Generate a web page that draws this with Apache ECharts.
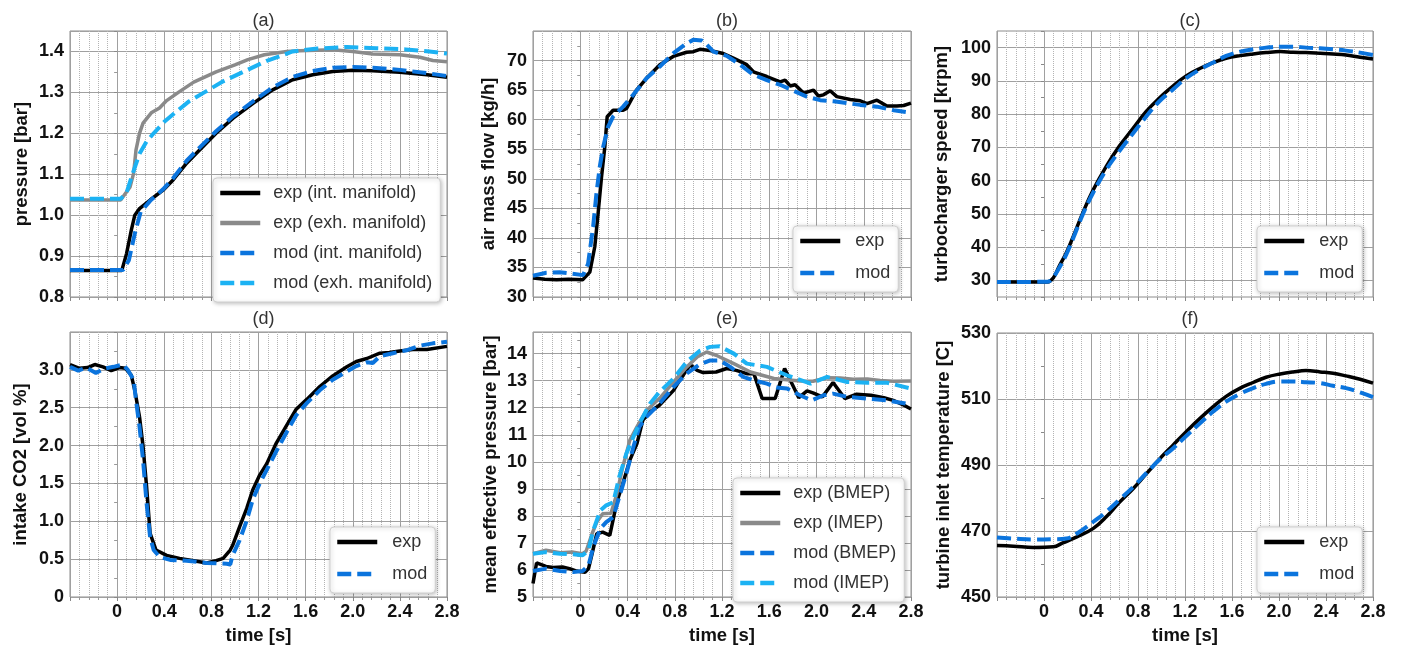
<!DOCTYPE html>
<html><head><meta charset="utf-8">
<script src="https://cdn.jsdelivr.net/npm/echarts@6/dist/echarts.min.js"></script>
<style>html,body{margin:0;padding:0;background:#fff}#c{width:1402px;height:646px}</style>
</head><body><div id="c"></div><script>
// ---- data: [time s, value] ----
const a_expInt = [[-0.4,0.865],[0.04,0.865],[0.08,0.906],[0.12,0.963],[0.15,1.0],[0.19,1.016],[0.28,1.037],[0.39,1.061],[0.475,1.086],[0.59,1.127],[0.70,1.159],[0.84,1.2],[0.985,1.237],[1.154,1.273],[1.32,1.306],[1.49,1.331],[1.66,1.343],[1.83,1.351],[2.0,1.354],[2.17,1.353],[2.4,1.349],[2.63,1.343],[2.8,1.337]];
const a_expExh = [[-0.4,1.037],[0.03,1.037],[0.05,1.045],[0.11,1.069],[0.14,1.102],[0.16,1.159],[0.19,1.2],[0.22,1.225],[0.29,1.25],[0.36,1.262],[0.42,1.28],[0.52,1.30],[0.65,1.325],[0.84,1.35],[1.0,1.367],[1.11,1.38],[1.25,1.392],[1.44,1.40],[1.55,1.402],[1.83,1.404],[2.0,1.40],[2.17,1.394],[2.4,1.392],[2.57,1.386],[2.68,1.378],[2.8,1.375]];
const a_modInt = [[-0.4,0.866],[0.05,0.866],[0.1,0.89],[0.15,0.955],[0.2,1.008],[0.28,1.035],[0.39,1.063],[0.475,1.09],[0.59,1.133],[0.70,1.165],[0.84,1.205],[0.985,1.242],[1.154,1.278],[1.32,1.312],[1.49,1.338],[1.66,1.352],[1.83,1.36],[2.0,1.362],[2.17,1.36],[2.4,1.355],[2.63,1.347],[2.8,1.34]];
const a_modExh = [[-0.4,1.04],[0.03,1.04],[0.08,1.055],[0.13,1.1],[0.19,1.15],[0.25,1.18],[0.31,1.2],[0.4,1.228],[0.49,1.25],[0.61,1.278],[0.74,1.30],[0.9,1.327],[1.07,1.35],[1.27,1.377],[1.49,1.40],[1.7,1.407],[1.95,1.411],[2.2,1.408],[2.45,1.405],[2.65,1.4],[2.8,1.395]];

const b_exp = [[-0.4,33.2],[-0.3,33.0],[-0.2,32.9],[-0.1,33.0],[0.02,32.9],[0.081,34.2],[0.123,38.5],[0.151,44.1],[0.18,50.3],[0.208,55.4],[0.228,60.5],[0.278,61.6],[0.363,61.6],[0.392,61.9],[0.476,65],[0.561,67],[0.674,69.3],[0.787,70.7],[0.9,71.4],[0.957,71.5],[1.013,71.9],[1.098,71.7],[1.211,71.2],[1.296,70.4],[1.409,69.3],[1.466,68.1],[1.579,67.3],[1.692,66.4],[1.734,66.7],[1.777,65.7],[1.819,65.9],[1.89,64.5],[1.975,65.0],[2.017,64.0],[2.059,64.2],[2.116,64.9],[2.172,63.9],[2.286,63.4],[2.37,63.2],[2.427,62.7],[2.512,63.3],[2.596,62.3],[2.681,62.3],[2.738,62.4],[2.8,62.8]];
const b_mod = [[-0.4,33.6],[-0.287,34.1],[-0.174,34.2],[-0.089,34.0],[0.024,33.7],[0.066,35.6],[0.109,41.9],[0.137,47.5],[0.165,52],[0.194,55.4],[0.236,58.8],[0.278,60.5],[0.363,62.2],[0.448,64.2],[0.561,67],[0.674,69],[0.787,71.2],[0.9,72.9],[0.957,73.5],[1.028,73.4],[1.07,72.7],[1.127,71.5],[1.24,70.8],[1.353,69.3],[1.466,67.6],[1.579,66.7],[1.692,65.9],[1.805,64.9],[1.918,63.9],[2.031,63.3],[2.144,63.1],[2.257,62.8],[2.37,62.5],[2.512,62.2],[2.653,61.6],[2.794,61.2]];

const c_exp = [[-0.4,29.5],[0.03,29.5],[0.08,30.8],[0.13,34.3],[0.19,38.3],[0.25,43.3],[0.33,50.3],[0.42,57.3],[0.53,64.3],[0.64,70.3],[0.76,75.8],[0.87,80.8],[0.98,84.8],[1.1,88.5],[1.21,91.5],[1.33,93.8],[1.44,95.5],[1.55,96.8],[1.67,97.6],[1.78,98.1],[1.89,98.5],[2.01,98.8],[2.12,98.6],[2.23,98.5],[2.35,98.3],[2.46,98.1],[2.57,97.8],[2.69,97.1],[2.8,96.6]];
const c_mod = [[-0.4,29.5],[0.03,29.6],[0.08,31],[0.13,33.8],[0.19,37.8],[0.25,42.8],[0.33,49.8],[0.42,56.5],[0.53,63.3],[0.64,68.8],[0.76,74.3],[0.87,79.3],[0.98,83.8],[1.1,87.5],[1.21,90.8],[1.33,93.5],[1.44,95.5],[1.55,97.5],[1.67,98.8],[1.78,99.5],[1.89,100],[2.01,100.3],[2.12,100.3],[2.23,100],[2.35,99.8],[2.46,99.5],[2.57,99.1],[2.69,98.5],[2.8,97.8]];

const d_exp = [[-0.4,3.07],[-0.32,3.02],[-0.25,3.03],[-0.19,3.07],[-0.12,3.04],[-0.05,2.99],[0.02,3.03],[0.07,3.02],[0.12,2.93],[0.15,2.73],[0.19,2.38],[0.22,1.99],[0.25,1.46],[0.28,0.84],[0.33,0.62],[0.42,0.55],[0.53,0.51],[0.65,0.48],[0.76,0.45],[0.84,0.48],[0.9,0.51],[0.96,0.62],[0.98,0.68],[1.04,0.93],[1.1,1.17],[1.15,1.41],[1.21,1.61],[1.27,1.76],[1.35,2.03],[1.44,2.27],[1.52,2.48],[1.61,2.61],[1.72,2.78],[1.83,2.92],[1.95,3.04],[2.03,3.11],[2.12,3.15],[2.23,3.22],[2.31,3.23],[2.4,3.25],[2.51,3.27],[2.63,3.27],[2.8,3.31]];
const d_mod = [[-0.4,3.04],[-0.33,2.99],[-0.26,3.03],[-0.18,2.96],[-0.1,3.02],[-0.03,3.04],[0.05,3.07],[0.09,3.0],[0.14,2.87],[0.16,2.6],[0.19,2.25],[0.22,1.81],[0.25,1.24],[0.28,0.79],[0.31,0.62],[0.36,0.53],[0.45,0.49],[0.59,0.48],[0.76,0.45],[0.93,0.44],[0.96,0.43],[0.98,0.55],[1.04,0.75],[1.1,1.01],[1.15,1.28],[1.21,1.5],[1.27,1.68],[1.35,1.92],[1.44,2.18],[1.52,2.4],[1.61,2.56],[1.72,2.73],[1.83,2.87],[1.95,2.98],[2.03,3.05],[2.12,3.1],[2.17,3.09],[2.23,3.18],[2.34,3.22],[2.46,3.26],[2.57,3.32],[2.68,3.35],[2.8,3.37]];

const e_expB = [[-0.4,5.5],[-0.37,6.26],[-0.29,6.13],[-0.23,6.09],[-0.15,6.11],[-0.09,6.05],[-0.03,5.96],[0.04,5.91],[0.07,6.05],[0.1,6.6],[0.14,7.34],[0.19,7.4],[0.25,7.28],[0.31,8.51],[0.36,9.19],[0.42,10.06],[0.48,10.67],[0.53,11.54],[0.59,11.84],[0.67,12.09],[0.79,12.64],[0.84,13.0],[0.93,13.59],[0.99,13.38],[1.04,13.3],[1.15,13.32],[1.24,13.45],[1.32,13.38],[1.41,13.26],[1.47,13.26],[1.54,12.34],[1.65,12.34],[1.73,13.45],[1.85,12.37],[1.92,12.62],[1.97,12.55],[2.05,12.4],[2.14,12.93],[2.24,12.34],[2.34,12.5],[2.46,12.46],[2.57,12.37],[2.65,12.27],[2.74,12.09],[2.8,11.95]];
const e_expI = [[-0.4,6.6],[-0.29,6.73],[-0.17,6.64],[-0.06,6.66],[0.02,6.6],[0.05,6.7],[0.1,7.34],[0.14,7.77],[0.19,8.08],[0.26,8.1],[0.31,8.82],[0.36,9.81],[0.42,10.8],[0.48,11.29],[0.56,11.9],[0.67,12.34],[0.79,12.95],[0.9,13.5],[0.99,13.88],[1.07,14.06],[1.15,13.94],[1.3,13.63],[1.44,13.32],[1.64,13.08],[1.86,12.99],[1.97,12.98],[2.09,13.11],[2.2,13.1],[2.31,13.05],[2.43,13.06],[2.54,13.01],[2.65,12.98],[2.8,12.99]];
const e_modB = [[-0.4,5.96],[-0.29,6.05],[-0.17,5.96],[-0.06,5.92],[0.02,5.96],[0.07,6.17],[0.11,6.85],[0.17,7.53],[0.22,7.77],[0.28,7.96],[0.33,8.7],[0.39,9.56],[0.45,10.55],[0.5,11.29],[0.56,11.66],[0.67,12.15],[0.79,12.77],[0.9,13.26],[1.01,13.6],[1.1,13.75],[1.18,13.75],[1.27,13.51],[1.38,13.14],[1.47,13.01],[1.58,12.89],[1.66,12.75],[1.75,12.71],[1.86,12.46],[1.96,12.27],[2.06,12.46],[2.14,12.52],[2.26,12.4],[2.43,12.34],[2.6,12.27],[2.8,12.12]];
const e_modI = [[-0.4,6.6],[-0.29,6.66],[-0.17,6.6],[-0.06,6.58],[0.02,6.54],[0.07,6.73],[0.11,7.47],[0.17,8.2],[0.22,8.39],[0.28,8.51],[0.33,9.44],[0.39,10.3],[0.45,10.92],[0.5,11.41],[0.59,12.15],[0.67,12.58],[0.79,13.08],[0.9,13.69],[1.01,14.1],[1.1,14.25],[1.18,14.27],[1.3,14.0],[1.41,13.63],[1.58,13.51],[1.75,13.2],[1.95,12.89],[2.09,13.14],[2.26,12.95],[2.43,12.92],[2.6,12.92],[2.8,12.71]];

const f_exp = [[-0.4,465.6],[-0.26,465.4],[-0.09,465.0],[0.08,465.2],[0.16,466.4],[0.28,468.2],[0.42,470.8],[0.53,474.3],[0.64,478.6],[0.76,482.9],[0.87,487.3],[0.98,491.7],[1.1,496.1],[1.21,500.1],[1.33,504.2],[1.44,507.7],[1.55,510.8],[1.67,513.3],[1.78,515.0],[1.89,516.6],[2.01,517.6],[2.12,518.2],[2.23,518.6],[2.35,518.2],[2.46,517.8],[2.57,517.0],[2.69,516.0],[2.8,514.8]];
const f_mod = [[-0.4,468.0],[-0.26,467.7],[-0.09,467.4],[0.08,467.5],[0.19,467.7],[0.3,469.7],[0.42,472.8],[0.53,475.8],[0.64,479.4],[0.76,483.4],[0.87,487.5],[0.98,491.5],[1.1,495.1],[1.21,498.8],[1.33,502.7],[1.44,506.2],[1.55,509.2],[1.67,511.6],[1.78,513.3],[1.89,514.6],[2.01,515.3],[2.12,515.3],[2.23,515.1],[2.35,514.8],[2.46,514.0],[2.57,513.3],[2.69,512.0],[2.8,510.6]];

const panelTitles = ['(a)','(b)','(c)','(d)','(e)','(f)'];
const yNames = ['pressure [bar]','air mass flow [kg/h]','turbocharger speed [krpm]','intake CO2 [vol %]','mean effective pressure [bar]','turbine inlet temperature [C]'];
const xName = 'time [s]';
const xTicks = {min:-0.4, max:2.8, step:0.4};
// y axis: range, tick step, labelled values (base, step, last)
const yTicks = [
  {min:0.8, max:1.45, step:0.1, labBase:0.8, lab:0.1, labMax:1.4, dec:1},
  {min:30, max:75, step:5, labBase:30, lab:5, labMax:70, dec:0},
  {min:25, max:105, step:5, labBase:30, lab:10, labMax:100, dec:0},
  {min:0, max:3.5, step:0.5, labBase:0, lab:0.5, labMax:3.0, dec:1},
  {min:5, max:14.8, step:1, labBase:5, lab:1, labMax:14, dec:0},
  {min:450, max:530, step:10, labBase:450, lab:20, labMax:530, dec:0}
];

// ---- layout ----
const grids = [
  {left:70, top:31, width:377, height:266},
  {left:533, top:31, width:378, height:266},
  {left:997, top:31, width:376, height:266},
  {left:70, top:332, width:377, height:265},
  {left:533, top:332, width:378, height:265},
  {left:997, top:333, width:376, height:264}
];
const yNameX = [21.5, 489, 941.5, 20.5, 490.5, 943.5];
const BLACK='#000', GRAY='#8a8a8a', BLUE='#0b74dd', LBLUE='#1cb2f3';
const FONT = 'Liberation Sans';

function isMult(v, step, base){ const r=(v-base)/step; return Math.abs(r-Math.round(r))<1e-6; }

const option = {animation:false, backgroundColor:'#fff', title:[], grid:[], xAxis:[], yAxis:[], legend:[], series:[], graphic:[]};

grids.forEach((g,i)=>{
  option.grid.push(Object.assign({show:true, borderColor:'#8c8c8c', borderWidth:1, backgroundColor:'#fff'}, g));
  option.title.push({text:panelTitles[i], left:g.left+g.width/2, top: i<3?7:305, textAlign:'center',
    textStyle:{fontFamily:FONT, fontSize:18, fontWeight:'normal', color:'#333'}});
  const bottom = i>=3;
  option.xAxis.push({type:'value', gridIndex:i, min:xTicks.min, max:xTicks.max, interval:xTicks.step,
    axisLine:{show:false},
    axisTick:{show:true, length:4, lineStyle:{color:'#888'}},
    minorTick:{show:true, splitNumber:5, length:3, lineStyle:{color:'#999'}},
    splitLine:{show:true, lineStyle:{color:'#a0a0a0', width:1}},
    minorSplitLine:{show:true, lineStyle:{color:'#b4b4b4', width:1, type:'dotted'}},
    axisLabel:{show:bottom, margin:6, fontFamily:FONT, fontSize:18, fontWeight:'bold', color:'#111',
      formatter:v=> (v<-1e-9 ? '' : (Math.abs(v)<1e-9 ? '0' : v.toFixed(1)))}
  });
  const yt = yTicks[i];
  const splitColors = (yt.lab===yt.step) ? ['#a0a0a0'] :
    (isMult(yt.min, yt.lab, yt.labBase) ? ['#a0a0a0','rgba(0,0,0,0)'] : ['rgba(0,0,0,0)','#a0a0a0']);
  option.yAxis.push({type:'value', gridIndex:i, min:yt.min, max:yt.max, interval:yt.step,
    axisLine:{show:false},
    axisTick:{show:true, length:3, lineStyle:{color:'#888'}},
    minorTick:{show: yt.lab===yt.step, splitNumber:2, length:3, lineStyle:{color:'#999'}},
    splitLine:{show:true, lineStyle:{color:splitColors, width:1}},
    axisLabel:{margin:6, fontFamily:FONT, fontSize:18, fontWeight:'bold', color:'#111',
      formatter:v=>{
        if (v>yt.labMax+1e-9 || !isMult(v, yt.lab, yt.labBase)) return '';
        if (Math.abs(v)<1e-9) return '0';
        return v.toFixed(yt.dec);
      }}
  });
  // axis titles as text
  option.graphic.push({type:'text', x:yNameX[i], y:g.top+g.height/2, rotation:Math.PI/2, silent:true,
    style:{text:yNames[i], font:'bold 18.5px "Liberation Sans"', fill:'#111', align:'center', verticalAlign:'middle'}});
  if (bottom) option.graphic.push({type:'text', x:g.left+g.width/2, y:636, silent:true,
    style:{text:xName, font:'bold 18.5px "Liberation Sans"', fill:'#111', align:'center', verticalAlign:'middle'}});
});

function line(name, data, i, color, dashed, smooth){
  return {type:'line', name, data, xAxisIndex:i, yAxisIndex:i, symbol:'none', smooth: smooth||false,
    clip:true, z: dashed?3:2,
    lineStyle:{color, width: dashed?4:3.5, type: dashed?[14,6]:'solid'},
    itemStyle:{color}};
}
option.series.push(
  line('exp (int. manifold)', a_expInt, 0, BLACK, false),
  line('exp (exh. manifold)', a_expExh, 0, GRAY, false),
  line('mod (int. manifold)', a_modInt, 0, BLUE, true),
  line('mod (exh. manifold)', a_modExh, 0, LBLUE, true),
  line('exp', b_exp, 1, BLACK, false),
  line('mod', b_mod, 1, BLUE, true),
  line('exp', c_exp, 2, BLACK, false, 0.4),
  line('mod', c_mod, 2, BLUE, true, 0.4),
  line('exp', d_exp, 3, BLACK, false),
  line('mod', d_mod, 3, BLUE, true),
  line('exp (BMEP)', e_expB, 4, BLACK, false),
  line('exp (IMEP)', e_expI, 4, GRAY, false),
  line('mod (BMEP)', e_modB, 4, BLUE, true),
  line('mod (IMEP)', e_modI, 4, LBLUE, true),
  line('exp', f_exp, 5, BLACK, false, 0.4),
  line('mod', f_mod, 5, BLUE, true, 0.4)
);

function legend(names, left, top, gap, textPad){
  return {data:names, orient:'vertical', left, top, itemWidth:40, itemHeight:14, itemGap:gap,
    padding:[6,8,10,5], backgroundColor:'#fff', borderColor:'#d0d0d0', borderWidth:1, borderRadius:4,
    shadowBlur:4, shadowColor:'rgba(0,0,0,0.25)', shadowOffsetX:1, shadowOffsetY:1,
    selectedMode:false,
    itemStyle:{color:'rgba(0,0,0,0)', opacity:0, borderWidth:0},
    lineStyle:{width:4.5},
    textStyle:{fontFamily:FONT, fontSize:18, color:'#333', padding:[0,0,0,textPad]}};
}
option.legend.push(
  legend(['exp (int. manifold)','exp (exh. manifold)','mod (int. manifold)','mod (exh. manifold)'], 213, 178, 12, 8),
  legend(['exp','mod'], 793, 226, 14, 10),
  legend(['exp','mod'], 1257, 226, 14, 10),
  legend(['exp','mod'], 330, 527, 14, 10),
  legend(['exp (BMEP)','exp (IMEP)','mod (BMEP)','mod (IMEP)'], 733, 478, 12, 8),
  legend(['exp','mod'], 1257, 527, 14, 10)
);

const chart = echarts.init(document.getElementById('c'), null, {renderer:'canvas'});
chart.setOption(option);
</script></body></html>
